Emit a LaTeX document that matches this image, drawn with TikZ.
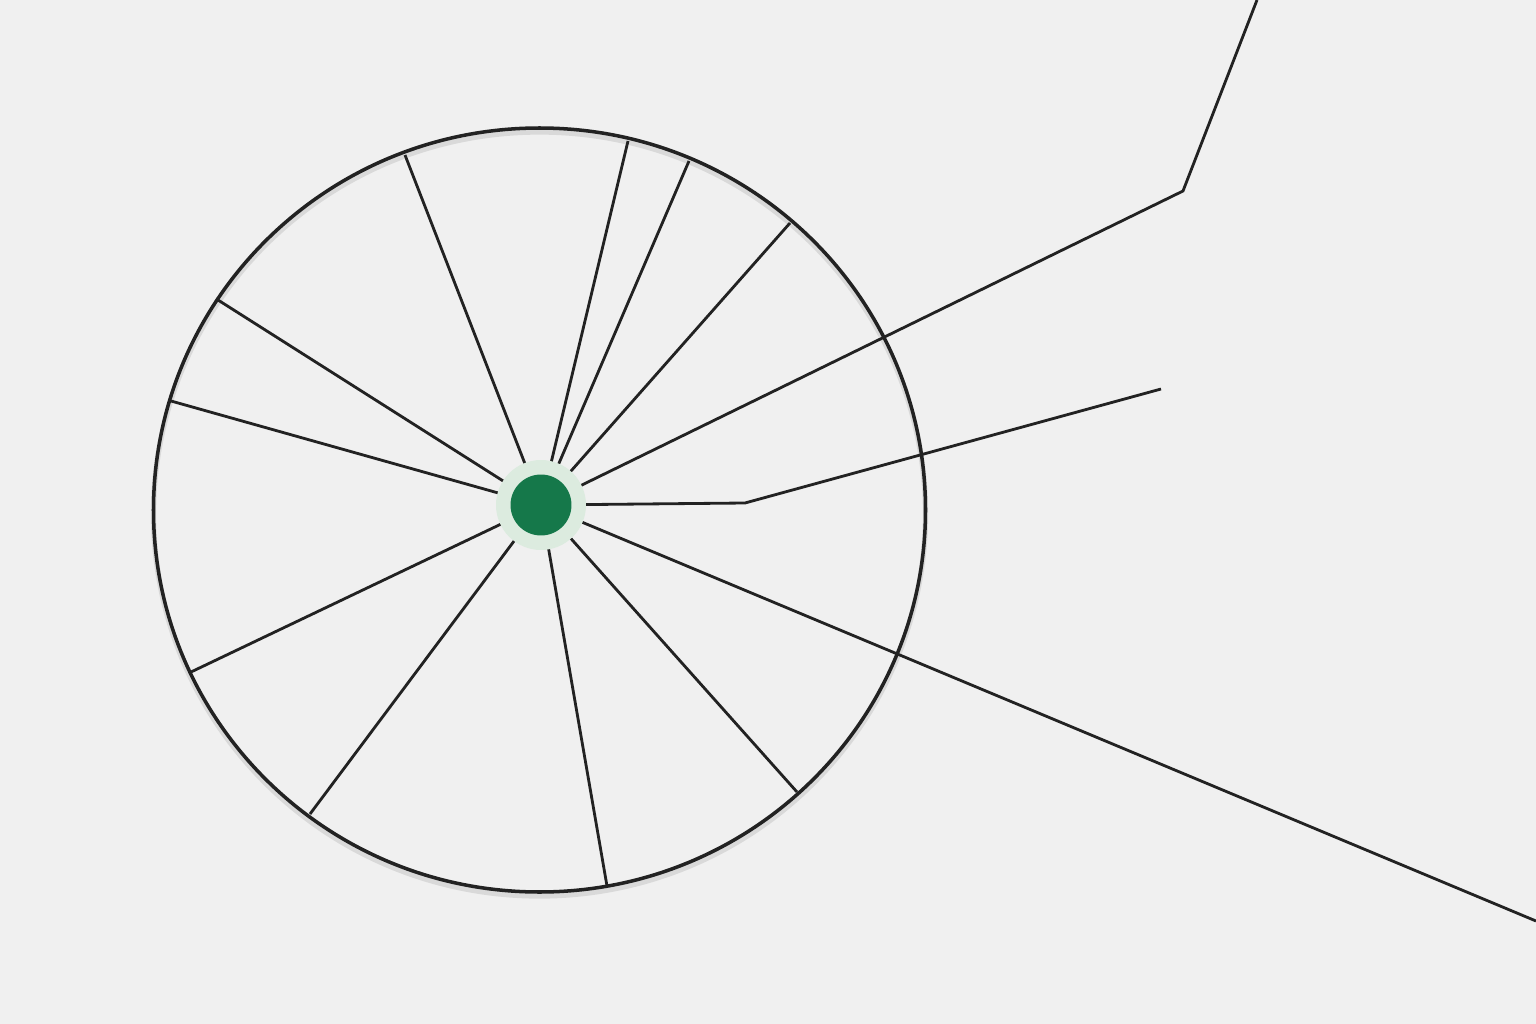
\documentclass[tikz,border=0pt]{standalone}
\usepackage{tikz}
\usetikzlibrary{calc}
\definecolor{bgcol}{HTML}{F0F0F0}
\definecolor{hubgreen}{HTML}{15784A}
\definecolor{halogreen}{HTML}{DCEBDF}
\definecolor{wire}{HTML}{222222}
\tikzstyle{spoke} = [draw=wire, line width=1.6pt]
\tikzstyle{rimline} = [draw=wire, line width=2pt]
\tikzstyle{halonode} = [circle, fill=halogreen, minimum size=1.8cm, inner sep=0pt]
\tikzstyle{hubnode} = [circle, fill=hubgreen, minimum size=1.22cm, inner sep=0pt]

\begin{document}
\begin{tikzpicture}[x=0.02cm, y=-0.02cm]
\fill[bgcol] (0,0) rectangle (1536,1024);
\useasboundingbox (0,0) rectangle (1536,1024);
% rim
\coordinate (centre) at (539.5,510);
\draw[gray!30, line width=3pt] ($(centre)+(0,4)$) ellipse (386*0.02cm and 382*0.02cm);
\draw[rimline] (centre) ellipse (386*0.02cm and 382*0.02cm);
\coordinate (hubc) at (541,505);
% spokes ending at the rim
\coordinate (s1) at (405,155);
\coordinate (s2) at (628,141);
\coordinate (s3) at (689,161);
\coordinate (s4) at (790,223);
\coordinate (s5) at (218,300);
\coordinate (s6) at (171,401);
\coordinate (s7) at (191,672);
\coordinate (s8) at (310,814);
\coordinate (s9) at (607,886);
\coordinate (s10) at (797,792);
\foreach \s in {s1,s2,s3,s4,s5,s6,s7,s8,s9,s10}
  \draw[spoke] (hubc) -- (\s);
% long lines
\coordinate (bendA) at (1183,191);
\coordinate (endA) at (1257,0);
\coordinate (bendB) at (745,503);
\coordinate (endB) at (1161,389);
\coordinate (endC) at (1536,921);
\draw[spoke, line join=miter] (hubc) -- (bendA) -- (endA);
\draw[spoke, line join=miter] (hubc) -- (bendB) -- (endB);
\draw[spoke] (hubc) -- (endC);
% hub
\node[halonode] (halo) at (hubc) {};
\node[hubnode] (hub) at (hubc) {};
\end{tikzpicture}
\end{document}
